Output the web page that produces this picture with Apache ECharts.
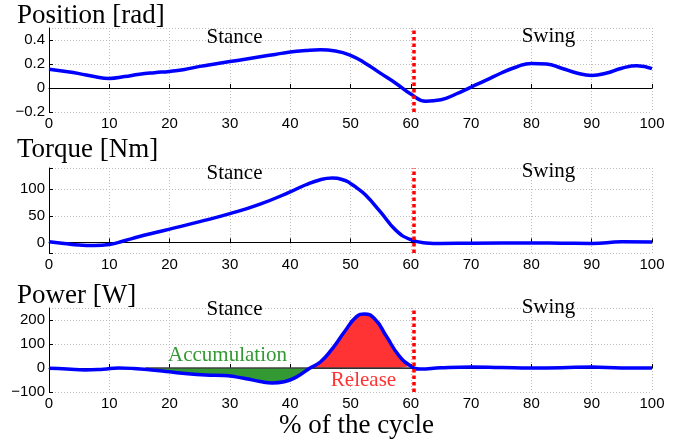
<!DOCTYPE html>
<html>
<head>
<meta charset="utf-8">
<script src="https://cdn.jsdelivr.net/npm/echarts@6/dist/echarts.min.js"></script>
<style>
  html, body { margin: 0; padding: 0; background: #fff; }
  #main { width: 676px; height: 442px; }
</style>
</head>
<body>
<div id="main"></div>
<script>
// gait cycle data (% of the cycle)
const posX = [0, 2.5, 5, 7.5, 10, 12.5, 15, 17.5, 20, 22.5, 25, 27.5, 30, 32.5, 35, 37.5, 40, 42.5, 45, 47.5, 50, 52.5, 55, 57.5, 60, 62.5, 65, 67.5, 70, 72.5, 75, 77.5, 80, 82.5, 85, 87.5, 90, 92.5, 95, 97.5, 100]
const posY = [0.157, 0.14, 0.12, 0.095, 0.08, 0.095, 0.115, 0.128, 0.138, 0.155, 0.18, 0.2, 0.22, 0.24, 0.26, 0.28, 0.30, 0.312, 0.318, 0.308, 0.272, 0.205, 0.122, 0.04, -0.05, -0.11, -0.098, -0.05, 0.008, 0.065, 0.125, 0.175, 0.205, 0.2, 0.165, 0.125, 0.105, 0.125, 0.165, 0.185, 0.162]

const torqueX = [0, 2.5, 5, 7.5, 10, 12.5, 15, 17.5, 20, 25, 30, 35, 40, 42.5, 45, 47, 49, 50, 51, 52.5, 55, 57.5, 60, 62.5, 65, 70, 80, 85, 90, 95, 100]
const torqueY = [1, -2, -5, -6, -4, 3, 11, 18, 25, 39, 54, 72, 95, 108, 118, 121, 117, 111, 103, 89, 57, 23, 5, -1, -2, -1.5, -1, -1.5, -2, 1, 0.5]

const powerX = [0, 3, 6, 9, 11.5, 14, 17, 20, 23, 26, 29, 31, 33, 35, 37, 39, 41, 43.3, 45, 47, 49, 51, 52.3, 54, 56, 58, 60, 61.5, 65, 70, 75, 80, 85, 90, 95, 100]
const powerY = [-1, -4, -8, -5, 0, -2, -8, -16, -24, -29, -31, -37, -46, -56, -62, -57, -38, 0, 25, 81, 151, 214, 225, 205, 130, 53, 8, -4, 1, 4, 2, 0, 1, 4, 0, 0]

const stanceEnd = 60.5          // stance / swing boundary
const accumRange = [16, 43.3]   // negative power (green)
const releaseRange = [43.3, 60]  // positive power (red)

const xTicks = [0, 10, 20, 30, 40, 50, 60, 70, 80, 90, 100]

const pairs = (xs, ys) => xs.map((x, i) => [x, ys[i]])
const inRange = (xs, ys, r) => pairs(xs, ys).filter(p => p[0] >= r[0] && p[0] <= r[1])

const SERIF = 'Liberation Serif'
const SANS = 'Liberation Sans'
const SMOOTH = 0.5
const minus = v => String(v).replace('-', '\u2212')

const grids = [
  {left: 49, width: 603, top: 28, height: 84},
  {left: 49, width: 603, top: 168, height: 85},
  {left: 49, width: 603, top: 308, height: 84}
]

const xAxisCfg = (i) => ({
  type: 'value', gridIndex: i, min: xTicks[0], max: xTicks[xTicks.length - 1], interval: 10,
  axisLine: {show: true, lineStyle: {color: '#000', width: 1}},
  axisTick: {show: true, inside: true, length: 4, lineStyle: {color: '#000'}},
  axisLabel: {color: '#000', fontFamily: SANS, fontSize: 15, margin: 4},
  splitLine: {show: true, lineStyle: {color: '#bdbdbd', type: [1, 2], width: 1}}
})

const yAxisCfg = (i, min, max, extra) => Object.assign({
  type: 'value', gridIndex: i, min: min, max: max,
  axisLine: {show: true, onZero: false, lineStyle: {color: '#000', width: 1}},
  axisTick: {show: true, inside: true, length: 4, lineStyle: {color: '#000'}},
  axisLabel: {color: '#000', fontFamily: SANS, fontSize: 15, margin: 4, showMaxLabel: false, formatter: minus},
  splitLine: {show: true, lineStyle: {color: '#bdbdbd', type: [1, 2], width: 1}}
}, extra)

const blueLine = (i, data) => ({
  type: 'line', xAxisIndex: i, yAxisIndex: i, data: data,
  smooth: SMOOTH, showSymbol: false, z: 5,
  lineStyle: {color: '#0000ff', width: 3.5},
  markLine: {
    silent: true, symbol: ['none', 'none'], z: 6,
    label: {show: false},
    lineStyle: {color: '#ff0000', width: 3.5, type: [3.5, 3]},
    data: [{xAxis: stanceEnd}]
  }
})

const fillArea = (data, color) => ({
  type: 'line', xAxisIndex: 2, yAxisIndex: 2, data: data,
  smooth: SMOOTH, showSymbol: false, z: 2,
  lineStyle: {width: 0},
  areaStyle: {color: color, opacity: 1, origin: 0}
})

const txt = (text, x, y, size, color, align) => ({
  type: 'text', x: x, y: y, z: 10,
  style: {text: text, font: size + 'px "' + SERIF + '"', fill: color || '#000',
    align: align || 'center', verticalAlign: 'middle'}
})

const myChart = echarts.init(document.getElementById('main'))
myChart.setOption({
  animation: false,
  backgroundColor: '#fff',
  grid: grids,
  xAxis: [xAxisCfg(0), xAxisCfg(1), xAxisCfg(2)],
  yAxis: [
    yAxisCfg(0, -0.2, 0.5, {interval: 0.2}),
    yAxisCfg(1, -20, 140, {splitNumber: 3, axisLabel: {color: '#000', fontFamily: SANS, fontSize: 15, margin: 4,
      formatter: v => (v % 50 === 0 ? minus(v) : '')}}),
    yAxisCfg(2, -100, 250, {interval: 100})
  ],
  series: [
    blueLine(0, pairs(posX, posY)),
    blueLine(1, pairs(torqueX, torqueY)),
    fillArea(inRange(powerX, powerY, accumRange), '#339933'),
    fillArea(inRange(powerX, powerY, releaseRange), '#ff3333'),
    {
      type: 'line', xAxisIndex: 2, yAxisIndex: 2, showSymbol: false, z: 3,
      data: [[accumRange[0], 0], [stanceEnd, 0]],
      lineStyle: {color: '#404040', width: 1.5}
    },
    blueLine(2, pairs(powerX, powerY))
  ],
  graphic: [
    txt('Position [rad]', 17, 16, 27, '#000', 'left'),
    txt('Torque [Nm]', 17, 150, 27, '#000', 'left'),
    txt('Power [W]', 17, 296, 27, '#000', 'left'),
    txt('Stance', 234.5, 37, 21),
    txt('Swing', 548.5, 36, 21),
    txt('Stance', 234.5, 173, 21),
    txt('Swing', 548.5, 171, 21),
    txt('Stance', 234.5, 309, 21),
    txt('Swing', 548.5, 307, 21),
    txt('Accumulation', 227.5, 355, 21, '#339933'),
    txt('Release', 363.5, 380.5, 21, '#ff3333'),
    txt('% of the cycle', 356.5, 426, 27)
  ]
})
</script>
</body>
</html>
